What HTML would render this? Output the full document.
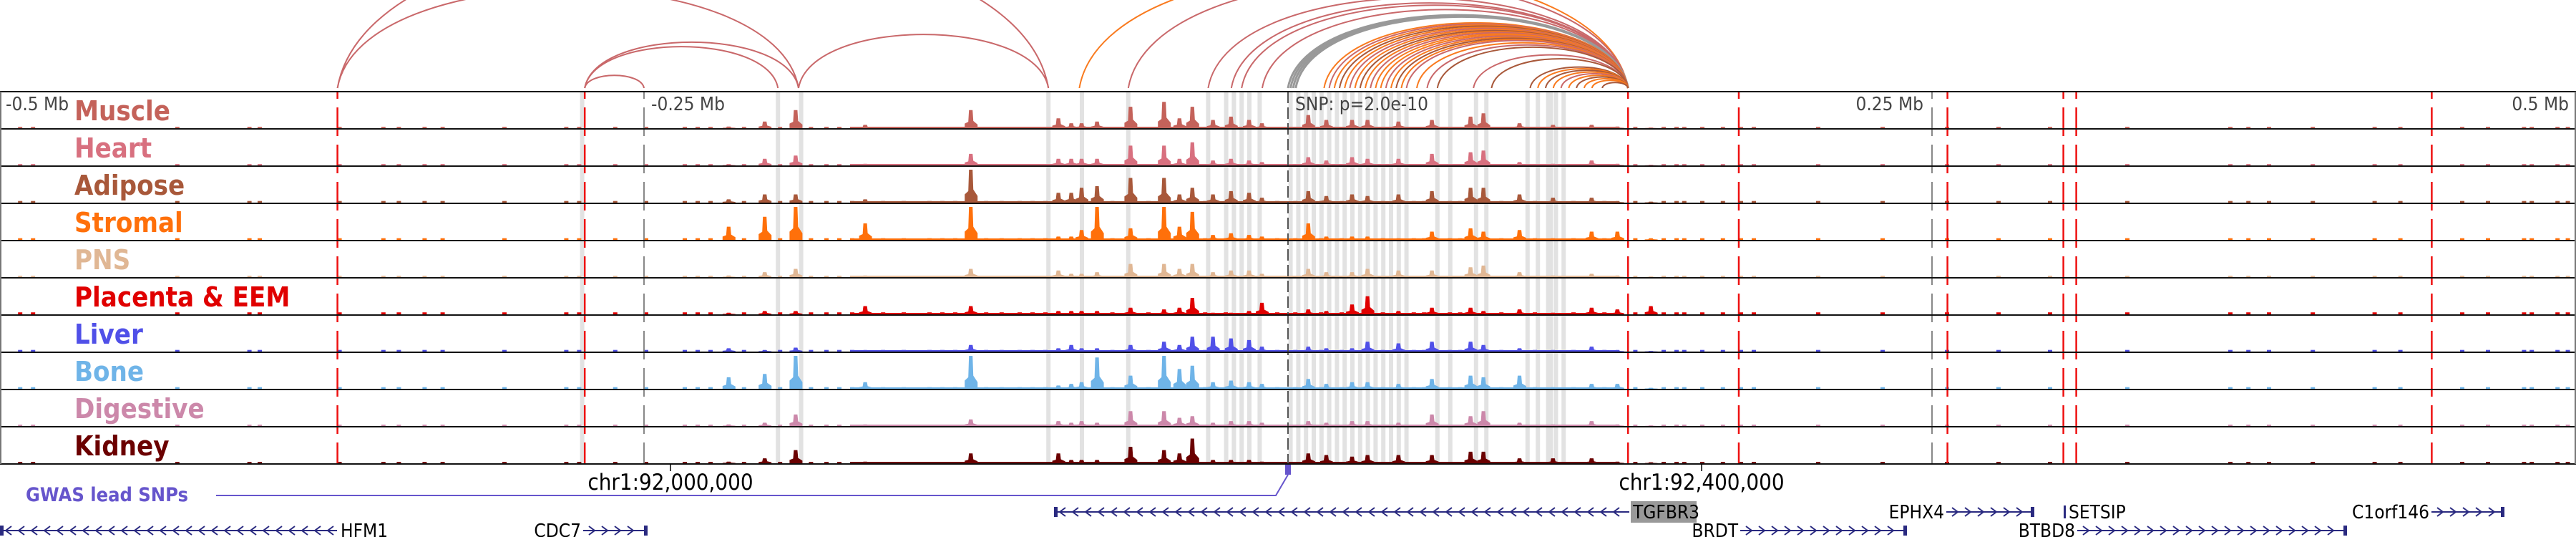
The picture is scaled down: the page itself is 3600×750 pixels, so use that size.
<!DOCTYPE html>
<html><head><meta charset="utf-8"><style>
html,body{margin:0;padding:0;background:#fff;width:3600px;height:750px;overflow:hidden}
svg{display:block}
text{font-family:"DejaVu Sans Condensed","DejaVu Sans","Liberation Sans",sans-serif}
</style></head><body>
<svg id="chart" width="3600" height="750" viewBox="0 0 3600 750" xmlns="http://www.w3.org/2000/svg">
<g id="arcs"></g>
<g id="shades"></g>
<g id="tracks"></g>
<g id="vlines"></g>
<g id="borders"></g>
<g id="labels"></g>
<g id="axis">
  <text x="8" y="154" font-size="26" fill="#444">-0.5 Mb</text>
  <text x="910" y="154" font-size="26" fill="#444">-0.25 Mb</text>
  <text x="1810" y="154" font-size="26" fill="#444">SNP: p=2.0e-10</text>
  <text x="2688" y="154" font-size="26" fill="#444" text-anchor="end">0.25 Mb</text>
  <text x="3590" y="154" font-size="26" fill="#444" text-anchor="end">0.5 Mb</text>
</g>
<g>
  <line x1="937" y1="648" x2="937" y2="658" stroke="#000" stroke-width="1.5"/>
  <text x="937" y="684" font-size="31" text-anchor="middle" fill="#000">chr1:92,000,000</text>
  <line x1="2378" y1="648" x2="2378" y2="658" stroke="#000" stroke-width="1.5"/>
  <text x="2378" y="684" font-size="31" text-anchor="middle" fill="#000">chr1:92,400,000</text>
</g>
<g>
  <text x="36" y="700" font-size="27" font-weight="bold" fill="#6655cc">GWAS lead SNPs</text>
  <polyline points="302,692 1783,692 1800,663" fill="none" stroke="#6655cc" stroke-width="2"/>
  <rect x="1796" y="649" width="8" height="14" fill="#6655cc"/>
</g>
<g id="genes"></g>
</svg>
<script>
const NS="http://www.w3.org/2000/svg";
function mk(tag,attrs,parent){const e=document.createElementNS(NS,tag);for(const k in attrs)e.setAttribute(k,attrs[k]);parent.appendChild(e);return e;}

const kbMin=-500, kbMax=500;
function xs(kb){return (kb-kbMin)/(kbMax-kbMin)*3600;}
const trackTop=128, trackH=52;

const tissues=["Muscle","Heart","Adipose","Stromal","PNS","Placenta & EEM","Liver","Bone","Digestive","Kidney"];
const tissueColors=["#c4625a","#d8707f","#a8583a","#ff700a","#e0b794","#e00000","#5050e8","#6fb4e8","#cc88aa","#6b0000"];
const peakKb=[-217,-203,-191,-164,-123,-89,-84,-80,-74,-61,-48,-42,-37,-29,-22,-15,-10,8,15,25,31,43,56,71,76,90,103,118,128,141];
const peakH=[
 [.05,.2,.55,.1,.55,.3,.15,.15,.2,.65,.8,.3,.65,.25,.35,.25,.15,.4,.25,.25,.25,.2,.25,.35,.45,.15,.1,.1,.05,.02],
 [.04,.2,.3,.05,.35,.2,.2,.2,.2,.6,.6,.2,.7,.15,.2,.15,.1,.25,.15,.25,.2,.2,.35,.4,.45,.1,.05,.15,.05,.02],
 [.1,.25,.25,.1,1,.3,.3,.45,.5,.75,.75,.25,.45,.25,.35,.3,.15,.35,.2,.25,.2,.25,.35,.45,.45,.25,.15,.15,.05,.03],
 [.4,.7,1,.5,1,.1,.1,.3,1,.35,1,.4,.85,.15,.2,.15,.1,.5,.1,.1,.1,.05,.25,.35,.25,.3,.05,.25,.25,.05],
 [.05,.15,.25,.05,.25,.2,.1,.1,.15,.4,.4,.25,.4,.15,.2,.2,.1,.25,.15,.15,.25,.2,.2,.3,.35,.15,.05,.1,.05,.02],
 [.05,.1,.1,.25,.25,.1,.1,.1,.1,.2,.15,.2,.5,.05,.05,.1,.35,.15,.1,.3,.55,.1,.2,.2,.1,.15,.05,.2,.15,.25],
 [.1,.05,.12,.05,.2,.1,.2,.1,.1,.2,.3,.2,.45,.45,.4,.35,.15,.15,.1,.1,.3,.25,.3,.3,.2,.1,.05,.15,.05,.02],
 [.35,.45,1,.2,1,.1,.15,.2,.95,.4,1,.6,.7,.2,.25,.2,.15,.3,.15,.2,.2,.15,.3,.4,.35,.4,.05,.15,.15,.03],
 [.05,.1,.35,.05,.2,.15,.1,.15,.1,.45,.45,.25,.3,.1,.15,.15,.1,.15,.1,.15,.15,.1,.35,.3,.45,.1,.05,.15,.05,.02],
 [.05,.15,.4,.05,.3,.3,.1,.1,.1,.5,.4,.3,.75,.1,.1,.1,.05,.3,.25,.2,.25,.25,.25,.35,.35,.15,.15,.15,.05,.03]
];
const noiseKb=[-493,-488,-432,-404,-400,-369,-352,-346,-336,-329,-305,-281,-276,-262,-250,-235,-230,-225,-212,-198,-186,-180,-175,-170,-158,-150,-140,-135,-130,-118,-112,-105,-100,-95,-69,-55,-33,-25,-5,2,12,20,36,48,52,62,66,82,95,110,122,134,145,150,153,160,168,175,180,205,230,255,275,295,325,365,372,380,397,421,431,455,465,479,482,492,496,515,530,545];
const noiseLvl=[.04,.04,.05,.05,.04,.06,.05,.05,.04,.04];

const shadeKb=[-274,-198,-189,-93,-80,-62,-31,-24,-21,-18,-15,-11,1,4,7,10,13,16,19,22,25,28,31,34,37,40,43,46,58,63,73,77,93,97,101,102,104,107];
const redLineKb=[-369,-273,132,175,256,301,306,444];
const grayLineKb=[-250,250];
const snpKb=0;

const loopStartKb=[-369,-369,-273,-273,-273,-190,-81,-62,-31,-22,-18,-10,0,1,2,3,14,16,18,20,22,24,26,28,30,32,34,36,38,40,42,44,46,50,54,58,72,79,94,97,100,103,106,109,112,115,118,122];
const loopEndKb=[-190,-93,-250,-198,-190,-93,132,132,132,132,132,132,132,132,132,132,132,132,132,132,132,132,132,132,132,132,132,132,132,132,132,132,132,132,132,132,132,132,132,132,132,132,132,132,132,132,132,132];
const loopColor=[1,1,1,1,1,1,0,1,1,1,1,1,3,3,3,3,0,1,0,2,0,1,0,2,0,1,0,0,1,0,2,0,1,0,1,2,1,2,2,0,2,0,1,0,2,0,0,2];
const loopPalette=["#f97a1e","#c9686a","#a8583a","#999999"];

const arcG=document.getElementById('arcs');
for(let i=0;i<loopStartKb.length;i++){
  const a=xs(loopStartKb[i]);
  const b=xs(loopEndKb[i]);
  const h=(b-a)*0.215;
  const base=123;
  const p=mk('path',{d:`M${a},${base} C${a+(b-a)*0.05},${base-h*1.33} ${b-(b-a)*0.05},${base-h*1.33} ${b},${base}`,fill:'none',stroke:loopPalette[loopColor[i]],'stroke-width':loopColor[i]===3?3:2},arcG);
  
  
}

const shG=document.getElementById('shades');
shadeKb.forEach(k=>{
  const r=mk('rect',{x:xs(k)-3,y:trackTop,width:6,height:trackH*10,fill:'#e2e2e2'},shG);
  
  
});

const trG=document.getElementById('tracks');
tissues.forEach((t,ti)=>{
  const g=mk('g',{},trG);
  
  
  const bottom=trackTop+trackH*(ti+1)-1;
  const col=tissueColors[ti];
  const maxH=trackH-6;
  noiseKb.forEach(k=>{
    const r=mk('rect',{x:xs(k),y:bottom-maxH*noiseLvl[ti],width:6,height:maxH*noiseLvl[ti],fill:col},g);
    
    
  });
  const bl=mk('rect',{x:xs(-170),y:bottom-2,width:xs(128)-xs(-170),height:2,fill:col},g);
  
  
  peakKb.forEach((k,pi)=>{
    const h=peakH[ti][pi]*maxH, x=xs(k);
    const pts=`${x-9},${bottom} ${x-9},${bottom-h*0.25} ${x-4},${bottom-h*0.35} ${x-3},${bottom-h} ${x+2},${bottom-h} ${x+3},${bottom-h*0.4} ${x+9},${bottom-h*0.2} ${x+9},${bottom}`;
    const p=mk('polygon',{points:pts,fill:col},g);
    
    
  });
});

const vG=document.getElementById('vlines');
redLineKb.forEach(k=>{
  const l=mk('line',{x1:xs(k),x2:xs(k),y1:trackTop,y2:trackTop+trackH*10,stroke:'#ee1111','stroke-width':2.5,'stroke-dasharray':'40 12','stroke-dashoffset':'-22'},vG);
  
  
});
grayLineKb.forEach(k=>{
  const l=mk('line',{x1:xs(k),x2:xs(k),y1:trackTop,y2:trackTop+trackH*10,stroke:'#888','stroke-width':2,'stroke-dasharray':'40 12','stroke-dashoffset':'-22'},vG);
  
  
});
const sl=mk('line',{x1:xs(snpKb),x2:xs(snpKb),y1:trackTop,y2:trackTop+trackH*10,stroke:'#555','stroke-width':2,'stroke-dasharray':'16 6'},vG);



const bG=document.getElementById('borders');
for(let i=0;i<=10;i++){
  const l=mk('line',{x1:0,x2:3600,y1:trackTop+trackH*i,y2:trackTop+trackH*i,stroke:'#111','stroke-width':2},bG);
  
  
}
mk('line',{x1:1,x2:1,y1:trackTop,y2:trackTop+trackH*10,stroke:'#777','stroke-width':2},bG);
mk('line',{x1:3599,x2:3599,y1:trackTop,y2:trackTop+trackH*10,stroke:'#777','stroke-width':2},bG);

const lG=document.getElementById('labels');
tissues.forEach((t,ti)=>{
  const tx=mk('text',{x:104,y:trackTop+trackH*ti+40,'font-size':38,'font-weight':'bold',fill:tissueColors[ti],'font-family':'"DejaVu Sans","Liberation Sans",sans-serif'},lG);
  tx.textContent=t;
  
  
});

const genes=[
 {name:"HFM1",s:0,e:471,y:741,dir:-1,labelSide:'right'},
 {name:"CDC7",s:815,e:905,y:741,dir:1,labelSide:'left'},
 {name:"TGFBR3",s:1473,e:2277,y:715,dir:-1,labelSide:'right',box:true},
 {name:"BRDT",s:2432,e:2665,y:741,dir:1,labelSide:'left'},
 {name:"EPHX4",s:2720,e:2843,y:715,dir:1,labelSide:'left'},
 {name:"SETSIP",s:2884,e:2886,y:715,dir:1,labelSide:'right'},
 {name:"BTBD8",s:2903,e:3280,y:741,dir:1,labelSide:'left'},
 {name:"C1orf146",s:3398,e:3500,y:715,dir:1,labelSide:'left'}
];
const gG=document.getElementById('genes');
genes.forEach(gn=>{
  const g=mk('g',{},gG);
  
  
  if(gn.e-gn.s>5){
    mk('line',{x1:gn.s,x2:gn.e,y1:gn.y,y2:gn.y,stroke:'#2a2a80','stroke-width':2},g);
    let d='';
    for(let cx=gn.s+12;cx<gn.e-6;cx+=18){
      d+=gn.dir<0?`M${cx+4},${gn.y-6} L${cx-4},${gn.y} L${cx+4},${gn.y+6} `:`M${cx-4},${gn.y-6} L${cx+4},${gn.y} L${cx-4},${gn.y+6} `;
    }
    mk('path',{d:d,fill:'none',stroke:'#2a2a80','stroke-width':2},g);
    mk('rect',{x:gn.dir<0?gn.s:gn.e-5,y:gn.y-7,width:5,height:14,fill:'#2a2a80'},g);
  } else {
    mk('rect',{x:gn.s,y:gn.y-9,width:3,height:18,fill:'#2a2a80'},g);
  }
  if(gn.box){
    mk('rect',{x:gn.e+2,y:gn.y-15,width:92,height:30,fill:'#999'},g);
  }
  const t=mk('text',{x:gn.labelSide==='right'?gn.e+5:gn.s-3,y:gn.y+9,'font-size':26,'text-anchor':gn.labelSide==='right'?'start':'end',fill:'#000'},g);
  t.textContent=gn.name;
});
</script>
</body></html>
